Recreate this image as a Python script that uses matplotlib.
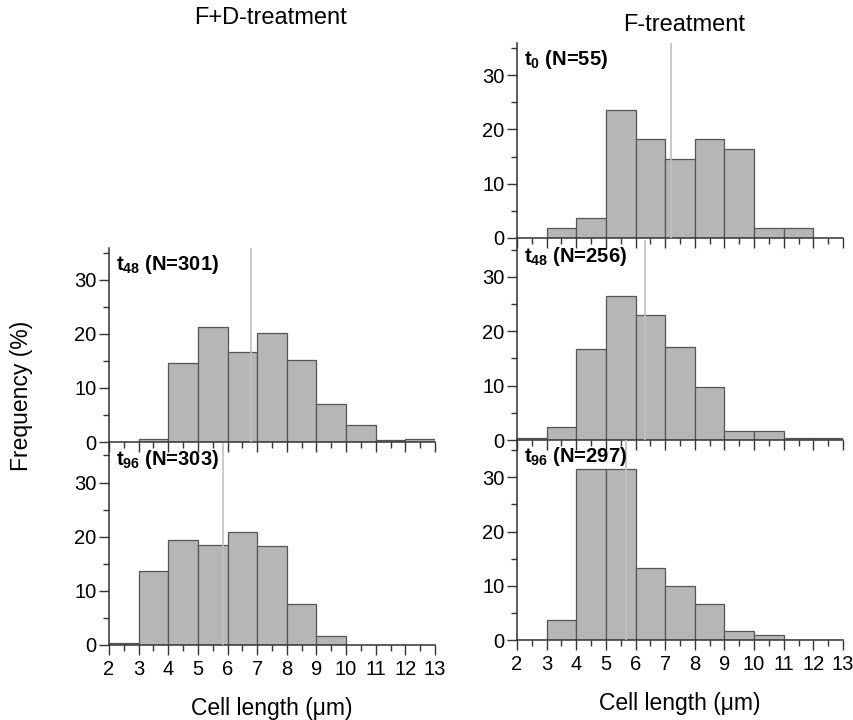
import matplotlib.pyplot as plt
import numpy as np
from matplotlib.ticker import MultipleLocator

plt.rcParams['font.family'] = ['Liberation Sans', 'DejaVu Sans']
plt.rcParams['mathtext.fontset'] = 'custom'
plt.rcParams['mathtext.rm'] = 'Liberation Sans'
plt.rcParams['mathtext.bf'] = 'Liberation Sans:bold'
plt.rcParams['mathtext.it'] = 'Liberation Sans:italic'

# bin edges of the histograms (cell length, um)
edges = np.arange(2, 14, 1)

# frequencies (%) per 1 um bin, 2-3 ... 12-13
fd_t48 = [0, 0.6, 14.6, 21.2, 16.6, 20.2, 15.2, 7.0, 3.2, 0.3, 0.6]
fd_t96 = [0.4, 13.6, 19.4, 18.5, 20.8, 18.2, 7.6, 1.7, 0, 0, 0]
f_t0 = [0, 1.8, 3.6, 23.6, 18.2, 14.5, 18.2, 16.4, 1.8, 1.8, 0]
f_t48 = [0.4, 2.4, 16.8, 26.5, 23.0, 17.1, 9.8, 1.6, 1.6, 0.4, 0.4]
f_t96 = [0, 3.7, 31.5, 31.5, 13.3, 10.0, 6.6, 1.7, 1.0, 0, 0]

# mean cell length for each sample
means = {'fd_t48': 6.8, 'fd_t96': 5.85, 'f_t0': 7.2, 'f_t48': 6.32, 'f_t96': 5.69}
labels = {'fd_t48': r'$\mathbf{t_{48}}$ (N=301)', 'fd_t96': r'$\mathbf{t_{96}}$ (N=303)',
          'f_t0': r'$\mathbf{t_{0}}$ (N=55)', 'f_t48': r'$\mathbf{t_{48}}$ (N=256)',
          'f_t96': r'$\mathbf{t_{96}}$ (N=297)'}

W, H = 854, 720
fig = plt.figure(figsize=(W / 100, H / 100), dpi=100)

def rect(x0, x1, ybot, ytop):
    return [x0 / W, 1 - ybot / H, (x1 - x0) / W, (ybot - ytop) / H]

panels = [
    ('fd_t48', fd_t48, rect(109, 435, 442, 248), 35.9, False),
    ('fd_t96', fd_t96, rect(109, 435, 645, 443), 37.3, True),
    ('f_t0', f_t0, rect(517, 843, 238, 43), 35.9, False),
    ('f_t48', f_t48, rect(517, 843, 440, 240), 36.8, False),
    ('f_t96', f_t96, rect(517, 843, 640, 440), 36.9, True),
]

for key, vals, pos, ytop, bottom in panels:
    ax = fig.add_axes(pos)
    ax.set_facecolor('none')
    ax.bar(edges[:-1], vals, width=1, align='edge', color='#b6b6b6',
           edgecolor='#555555', linewidth=0.9, zorder=2)
    ax.axvline(means[key], color='#c0c0c0', linewidth=1.2, zorder=3)
    ax.set_xlim(2, 13)
    ax.set_ylim(0, ytop)
    for s in ['top', 'right']:
        ax.spines[s].set_visible(False)
    for s in ['left', 'bottom']:
        ax.spines[s].set_color('#333333')
        ax.spines[s].set_linewidth(1.1)
    ax.xaxis.set_major_locator(MultipleLocator(1))
    ax.xaxis.set_minor_locator(MultipleLocator(0.5))
    ax.yaxis.set_major_locator(MultipleLocator(10))
    ax.yaxis.set_minor_locator(MultipleLocator(5))
    ax.tick_params(which='major', length=7, width=1, color='#333333', labelsize=14.5)
    ax.tick_params(which='minor', length=4, width=1, color='#333333')
    ax.tick_params(axis='y', pad=2)
    ax.tick_params(axis='x', pad=4)
    if bottom:
        ax.set_xlabel('Cell length (\u03bcm)', fontsize=16.5, labelpad=13)
    else:
        ax.tick_params(axis='x', labelbottom=False)
    ax.text(0.02, 0.975, labels[key], transform=ax.transAxes, fontsize=14.5,
            fontweight='bold', va='top', ha='left', zorder=4)

fig.text(270 / W, 1 - 18 / H, 'F+D-treatment', fontsize=17, ha='center', va='center')
fig.text(684 / W, 1 - 25 / H, 'F-treatment', fontsize=17, ha='center', va='center')
fig.text(22 / W, 1 - 396 / H, 'Frequency (%)', fontsize=16.5, rotation=90,
         ha='center', va='center')

fig.savefig('out.png', dpi=100)
